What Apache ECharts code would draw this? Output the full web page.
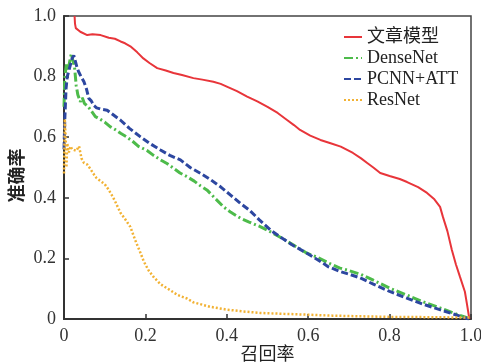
<!DOCTYPE html>
<html><head><meta charset="utf-8">
<script src="https://cdn.jsdelivr.net/npm/echarts@6/dist/echarts.min.js"></script>
<style>html,body{margin:0;padding:0;background:#fff}#c{width:481px;height:364px}</style>
</head><body><div id="c"></div>
<script>
const seriesNames = ['文章模型', 'DenseNet', 'PCNN+ATT', 'ResNet'];
const xTicks = [0, 0.2, 0.4, 0.6, 0.8, 1.0];
const yTicks = [0, 0.2, 0.4, 0.6, 0.8, 1.0];

const oursRecall = [0.026,0.027,0.029,0.04,0.057,0.07,0.09,0.11,0.125,0.139,0.15,0.163,0.18,0.195,0.21,0.229,0.25,0.269,0.29,0.318,0.34,0.367,0.385,0.40,0.425,0.45,0.475,0.50,0.525,0.548,0.565,0.58,0.605,0.63,0.655,0.68,0.71,0.73,0.745,0.76,0.777,0.80,0.825,0.843,0.87,0.892,0.91,0.924,0.931,0.942,0.953,0.963,0.973,0.985,0.99,0.996];
const oursPrecision = [1.0,0.975,0.96,0.948,0.937,0.94,0.937,0.928,0.925,0.916,0.91,0.90,0.88,0.86,0.845,0.828,0.82,0.812,0.805,0.795,0.79,0.783,0.776,0.767,0.752,0.734,0.718,0.70,0.68,0.657,0.64,0.624,0.605,0.591,0.58,0.569,0.548,0.53,0.515,0.50,0.482,0.472,0.462,0.452,0.435,0.416,0.395,0.37,0.337,0.29,0.228,0.18,0.139,0.09,0.05,0.0];

const denseRecall = [0,0.002,0.006,0.01,0.014,0.018,0.022,0.026,0.03,0.034,0.04,0.045,0.05,0.06,0.068,0.077,0.088,0.10,0.114,0.126,0.14,0.155,0.17,0.183,0.204,0.22,0.235,0.253,0.27,0.285,0.302,0.32,0.335,0.351,0.37,0.392,0.41,0.433,0.455,0.482,0.50,0.514,0.54,0.565,0.597,0.62,0.65,0.678,0.70,0.73,0.76,0.80,0.84,0.88,0.925,0.96,0.995];
const densePrecision = [0.70,0.80,0.84,0.82,0.85,0.875,0.87,0.83,0.77,0.74,0.717,0.73,0.712,0.70,0.685,0.668,0.66,0.65,0.634,0.625,0.612,0.60,0.585,0.57,0.556,0.54,0.527,0.513,0.497,0.482,0.47,0.455,0.44,0.426,0.40,0.37,0.352,0.333,0.32,0.305,0.293,0.283,0.263,0.243,0.217,0.205,0.185,0.168,0.16,0.147,0.128,0.102,0.08,0.058,0.036,0.018,0.002];

const pcnnRecall = [0,0.002,0.005,0.008,0.012,0.016,0.02,0.024,0.028,0.032,0.036,0.042,0.049,0.055,0.061,0.067,0.073,0.08,0.092,0.106,0.12,0.139,0.16,0.188,0.21,0.237,0.26,0.286,0.31,0.335,0.36,0.384,0.41,0.433,0.455,0.48,0.507,0.53,0.56,0.597,0.63,0.65,0.678,0.70,0.727,0.76,0.80,0.84,0.88,0.925,0.96,0.995];
const pcnnPrecision = [0.56,0.66,0.76,0.80,0.82,0.84,0.86,0.87,0.85,0.83,0.816,0.80,0.783,0.76,0.728,0.72,0.705,0.697,0.692,0.689,0.675,0.656,0.63,0.601,0.58,0.558,0.54,0.525,0.50,0.481,0.46,0.437,0.408,0.382,0.36,0.327,0.294,0.272,0.245,0.217,0.19,0.172,0.157,0.148,0.136,0.115,0.091,0.07,0.05,0.03,0.015,0.0];

const resRecall = [0,0.002,0.004,0.006,0.008,0.012,0.016,0.02,0.024,0.03,0.037,0.043,0.049,0.057,0.065,0.072,0.08,0.09,0.10,0.108,0.117,0.125,0.132,0.139,0.15,0.163,0.175,0.188,0.196,0.208,0.22,0.237,0.261,0.278,0.303,0.318,0.36,0.40,0.44,0.482,0.54,0.605,0.66,0.727,0.80,0.90,0.97,1.0];
const resPrecision = [0.48,0.66,0.60,0.50,0.58,0.55,0.57,0.56,0.56,0.555,0.57,0.53,0.515,0.51,0.495,0.48,0.465,0.455,0.445,0.43,0.41,0.39,0.37,0.35,0.33,0.304,0.26,0.218,0.19,0.16,0.139,0.115,0.095,0.08,0.067,0.055,0.04,0.031,0.025,0.02,0.017,0.014,0.011,0.009,0.007,0.006,0.005,0.005];

const zip = (a, b) => a.map((v, i) => [v, b[i]]);
const serif = '"Liberation Serif", "DejaVu Serif", serif';
const cjk = '"Liberation Serif", "Noto Sans CJK SC", serif';
const fmt = v => v === 0 ? '0' : v.toFixed(1);

const chart = echarts.init(document.getElementById('c'), null, {renderer: 'canvas'});
chart.setOption({
  animation: false,
  textStyle: {fontFamily: serif},
  grid: {left: 64, right: 10, top: 16, bottom: 45, outerBoundsMode: 'none', containLabel: false,
         show: true, borderColor: '#444', borderWidth: 1.5, backgroundColor: 'transparent'},
  legend: {
    orient: 'vertical', left: 338, top: 23, itemWidth: 18, itemHeight: 10, itemGap: 3,
    itemStyle: {opacity: 0},
    textStyle: {fontFamily: cjk, fontSize: 18, color: '#222', lineHeight: 18},
    data: seriesNames
  },
  xAxis: {
    type: 'value', min: 0, max: 1, interval: 0.2,
    name: '召回率', nameLocation: 'middle', nameGap: 27, nameMoveOverlap: false,
    nameTextStyle: {fontFamily: cjk, fontSize: 18, color: '#222'},
    axisLine: {lineStyle: {color: '#333', width: 2}},
    axisTick: {inside: true, length: 5, lineStyle: {color: '#333', width: 1.5}},
    axisLabel: {fontFamily: serif, fontSize: 18, color: '#333', margin: 8, formatter: fmt},
    splitLine: {show: false}
  },
  yAxis: {
    type: 'value', min: 0, max: 1, interval: 0.2,
    name: '准确率', nameLocation: 'middle', nameGap: 37, nameMoveOverlap: false,
    nameTextStyle: {fontFamily: cjk, fontSize: 18, color: '#222', fontWeight: 'bold', padding: [0, 16, 0, 0]},
    axisLine: {lineStyle: {color: '#333', width: 2}},
    axisTick: {inside: true, length: 5, lineStyle: {color: '#333', width: 1.5}},
    axisLabel: {fontFamily: serif, fontSize: 18, color: '#333', margin: 8, formatter: fmt},
    splitLine: {show: false}
  },
  series: [
    {name: seriesNames[0], type: 'line', symbol: 'none', data: zip(oursRecall, oursPrecision),
     lineStyle: {color: '#e8353a', width: 2}, itemStyle: {color: '#e8353a'}},
    {name: seriesNames[1], type: 'line', symbol: 'none', data: zip(denseRecall, densePrecision),
     lineStyle: {color: '#4dbb4a', width: 3, type: [9, 3, 2, 3]}, itemStyle: {color: '#4dbb4a'}},
    {name: seriesNames[2], type: 'line', symbol: 'none', data: zip(pcnnRecall, pcnnPrecision),
     lineStyle: {color: '#2d47a0', width: 3, type: [7, 3]}, itemStyle: {color: '#2d47a0'}},
    {name: seriesNames[3], type: 'line', symbol: 'none', data: zip(resRecall, resPrecision),
     lineStyle: {color: '#f2b234', width: 2.5, type: [2, 2]}, itemStyle: {color: '#f2b234'}}
  ]
});
</script>
</body></html>
